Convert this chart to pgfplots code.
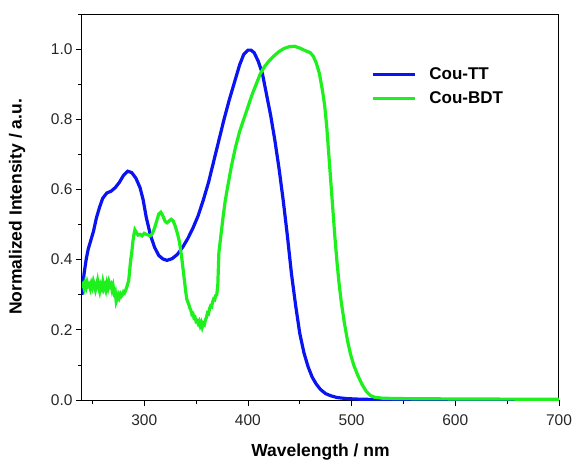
\documentclass[border=0pt]{standalone}
\usepackage{fontspec}
\setmainfont{Liberation Sans}
\usepackage{pgfplots}
\pgfplotsset{compat=1.18}
\definecolor{cblue}{HTML}{0A14F0}
\definecolor{cgreen}{HTML}{1EF01E}
\begin{document}
\begin{tikzpicture}
\begin{axis}[
  name=ax,
  scale only axis,
  width=477pt, height=386pt,
  xmin=240, xmax=700, ymin=0, ymax=1.1,
  xtick={300,400,...,700},
  minor xtick={250,350,...,650},
  ytick={0,0.2,...,1.0},
  minor ytick={0.1,0.3,...,1.1},
  xtick pos=bottom, ytick pos=left,
  tick align=outside,
  major tick length=6pt, minor tick length=3.5pt,
  every tick/.style={black, line width=0.8pt},
  axis line style={line width=1pt},
  /pgf/number format/assume math mode=true,
  yticklabel style={/pgf/number format/.cd, fixed, fixed zerofill, precision=1},
  xticklabel style={yshift=-5pt},
  tick label style={font=\fontsize{15.5}{18}\selectfont, text=black!85},
  xlabel={Wavelength / nm},
  ylabel={Normalized Intensity / a.u.},
  label style={font=\fontsize{17.5}{20}\selectfont\bfseries},
  xlabel style={at={(axis description cs:0.5,-0.135)}, anchor=center},
  ylabel style={at={(axis description cs:-0.136,0.5)}, anchor=center},
  legend style={draw=none, fill=none, at={(rel axis cs:0.6,0.872)}, anchor=north west,
    font=\fontsize{17}{20}\selectfont\bfseries, row sep=7pt,
    nodes={inner xsep=8pt}},
  legend cell align=left,
  legend image code/.code={\draw[#1, line width=3pt] (0pt,0pt) -- (42pt,0pt);},
]
\addplot[cblue, line width=3.2pt] coordinates {
(240,0.30)(242,0.36)(244,0.40)(246,0.43)(248,0.45)(251,0.48)(254,0.52)(257,0.55)
(260,0.575)(264,0.59)(268,0.595)(272,0.605)(276,0.62)(280,0.64)(284,0.652)(288,0.648)
(292,0.632)(296,0.605)(299,0.57)(302,0.52)(306,0.47)(310,0.435)(314,0.412)(318,0.402)
(322,0.398)(327,0.403)(332,0.415)(337,0.435)(342,0.46)(347,0.49)(352,0.525)(357,0.57)
(362,0.62)(367,0.68)(372,0.74)(377,0.80)(382,0.855)(387,0.905)(392,0.955)(396,0.985)
(400,0.997)(403,0.997)(406,0.99)(410,0.965)(414,0.93)(418,0.87)(422,0.81)(426,0.74)
(430,0.66)(434,0.57)(438,0.47)(442,0.36)(446,0.27)(450,0.19)(454,0.135)(458,0.095)
(462,0.065)(466,0.045)(470,0.03)(475,0.018)(480,0.012)(486,0.007)(495,0.004)(510,0.002)
(550,0.001)(700,0.001)};
\addlegendentry{\hspace{5pt}Cou-TT}
\addplot[cgreen, line width=3.2pt] coordinates {
(240,0.32)(241,0.328)(242,0.318)(243,0.332)(244,0.322)(245,0.336)(246,0.326)(247,0.33)
(248,0.318)(249,0.332)(250,0.322)(251,0.338)(252,0.328)(253,0.314)(254,0.326)(255,0.34)
(256,0.322)(257,0.31)(258,0.328)(259,0.32)(260,0.336)(261,0.318)(262,0.326)(263,0.314)
(264,0.332)(265,0.32)(266,0.336)(267,0.325)(268,0.33)(269,0.314)(270,0.325)(271,0.305)
(272,0.31)(273,0.28)(274,0.288)(275,0.3)(276,0.292)(277,0.302)(278,0.296)(279,0.3)
(280,0.308)(281,0.305)(282,0.312)(283,0.32)(284,0.33)(285,0.34)(286,0.37)(287,0.40)
(288,0.42)(289,0.45)(290,0.47)(291,0.485)(292,0.48)(293,0.475)(294,0.47)(296,0.472)
(298,0.468)(300,0.475)(302,0.472)(304,0.47)(306,0.468)(308,0.475)(310,0.49)(312,0.51)
(314,0.53)(316,0.535)(318,0.525)(320,0.51)(322,0.505)(324,0.51)(326,0.515)(328,0.51)
(330,0.495)(332,0.475)(334,0.45)(336,0.41)(338,0.36)(340,0.31)(341,0.288)(342,0.28)
(343,0.272)(344,0.262)(345,0.256)(346,0.244)(347,0.246)(348,0.234)(349,0.236)(350,0.224)
(351,0.226)(352,0.218)(353,0.224)(354,0.212)(355,0.22)(356,0.208)(357,0.218)(358,0.215)
(359,0.228)(360,0.235)(361,0.248)(362,0.246)(363,0.26)(364,0.268)(365,0.266)(366,0.28)
(367,0.288)(368,0.286)(369,0.298)(370,0.30)(371,0.33)(372,0.42)(374,0.47)(376,0.52)
(378,0.565)(380,0.60)(384,0.665)(388,0.72)(392,0.765)(396,0.80)(400,0.835)(404,0.87)
(408,0.90)(412,0.93)(416,0.95)(420,0.965)(425,0.98)(430,0.993)(435,1.002)(440,1.007)
(445,1.008)(450,1.003)(455,0.996)(460,0.99)(463,0.98)(466,0.96)(469,0.93)(472,0.88)
(474,0.84)(476,0.78)(478,0.70)(480,0.62)(482,0.54)(484,0.46)(486,0.39)(488,0.33)
(490,0.28)(493,0.22)(496,0.17)(499,0.13)(502,0.10)(506,0.07)(510,0.045)(514,0.025)
(518,0.013)(522,0.008)(530,0.005)(550,0.004)(600,0.003)(700,0.002)};
\addlegendentry{\hspace{5pt}Cou-BDT}
\end{axis}
\pgfresetboundingbox
\path (ax.south west) ++(-82pt,-59pt) rectangle ++(574pt,459pt);
\end{tikzpicture}
\end{document}
